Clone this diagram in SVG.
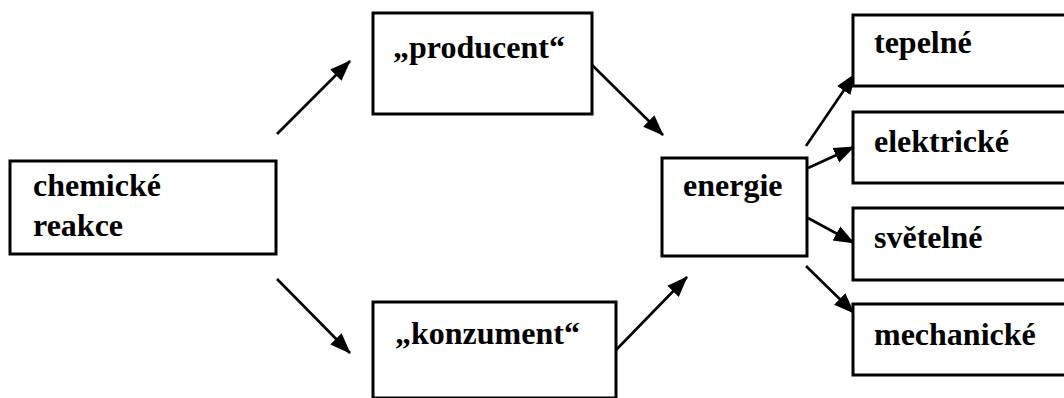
<svg xmlns="http://www.w3.org/2000/svg" width="1064" height="398" viewBox="0 0 1064 398">
<style>
.box{fill:#fff;stroke:#000;stroke-width:3}
.t{font-family:"Liberation Serif","Times New Roman",serif;font-weight:bold;font-size:32px;fill:#000}
.c{stroke:#000;stroke-width:2.6;fill:none;marker-end:url(#ah)}
</style>
<defs>
<marker id="ah" markerUnits="userSpaceOnUse" markerWidth="24" markerHeight="20" viewBox="0 0 24 20" refX="20" refY="10" orient="auto">
<path d="M0,2 L21,10 L0,18 Z" fill="#000"/>
</marker>
</defs>
<rect width="1064" height="398" fill="#fff"/>
<g id="connectors">
<line class="c" x1="277" y1="134" x2="350" y2="61"/>
<line class="c" x1="277" y1="279" x2="350" y2="353"/>
<line class="c" x1="592" y1="65" x2="663" y2="135"/>
<line class="c" x1="616" y1="350" x2="687" y2="277"/>
<line class="c" x1="806" y1="146" x2="855" y2="74"/>
<line class="c" x1="808" y1="168" x2="854" y2="147"/>
<line class="c" x1="808" y1="218" x2="854" y2="243"/>
<line class="c" x1="806" y1="266" x2="854" y2="313"/>
</g>
<g id="chemicke-reakce">
<rect class="box" x="10" y="161" width="266" height="93"/>
<text class="t" x="33" y="196">chemické</text>
<text class="t" x="33" y="236">reakce</text>
</g>
<g id="producent">
<rect class="box" x="373" y="13" width="219" height="101"/>
<text class="t" x="393" y="58">„producent“</text>
</g>
<g id="konzument">
<rect class="box" x="373" y="302" width="243" height="96"/>
<text class="t" x="395" y="344">„konzument“</text>
</g>
<g id="energie">
<rect class="box" x="662" y="158" width="145" height="98"/>
<text class="t" x="683" y="196">energie</text>
</g>
<g id="tepelne">
<rect class="box" x="853" y="15" width="220" height="71"/>
<text class="t" x="874" y="53">tepelné</text>
</g>
<g id="elektricke">
<rect class="box" x="853" y="112" width="220" height="71"/>
<text class="t" x="874" y="152">elektrické</text>
</g>
<g id="svetelne">
<rect class="box" x="853" y="208" width="220" height="72"/>
<text class="t" x="874" y="248">světelné</text>
</g>
<g id="mechanicke">
<rect class="box" x="853" y="304" width="220" height="71"/>
<text class="t" x="874" y="345">mechanické</text>
</g>
</svg>
